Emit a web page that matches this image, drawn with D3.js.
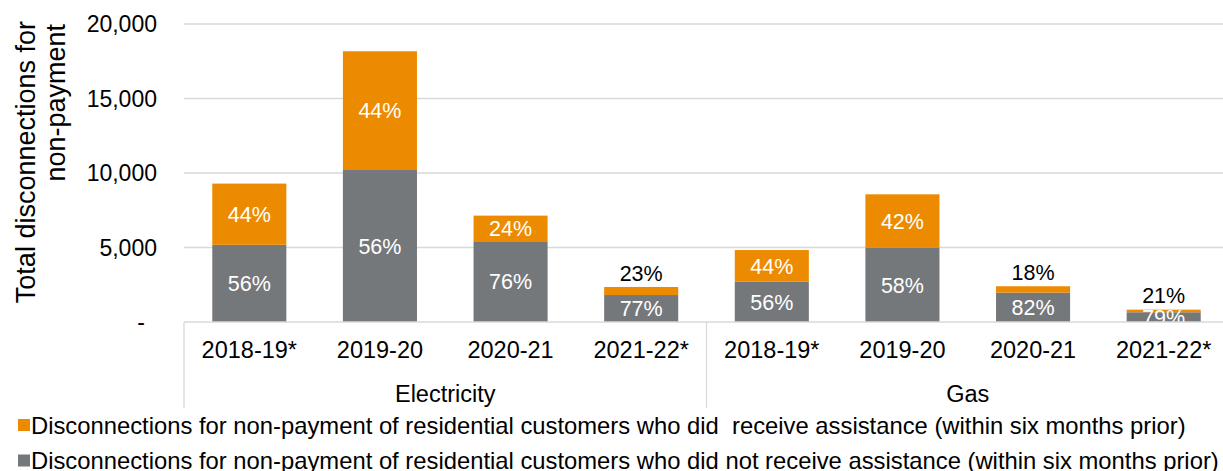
<!DOCTYPE html>
<html>
<head>
<meta charset="utf-8">
<script src="https://cdn.jsdelivr.net/npm/d3@7"></script>
<style>
  html, body { margin: 0; padding: 0; background: #fff; }
  svg { display: block; font-family: "Liberation Sans", Arial, sans-serif; }
  .pre { white-space: pre; }
</style>
</head>
<body>
<svg id="chart" width="1223" height="471"></svg>
<script>
// Disconnections for non-payment, by fuel and financial year
const fuels = ["Electricity", "Gas"];
const periods = ["2018-19*", "2019-20", "2020-21", "2021-22*"];

// Customers who did not receive assistance (grey, bottom of each stack)
const noAssistance = [5180, 10200, 5420, 1810, 2700, 4970, 1970, 655];
// Customers who did receive assistance (orange, top of each stack)
const withAssistance = [4110, 7970, 1720, 540, 2130, 3600, 430, 175];

const yTicks = [0, 5000, 10000, 15000, 20000];

const seriesNames = [
  "Disconnections for non-payment of residential customers who did  receive assistance (within six months prior)",
  "Disconnections for non-payment of residential customers who did not receive assistance (within six months prior)"
];

const colors = { without: "#75787b", with: "#ed8b00" };
const gridColor = "#d9d9d9";

// one row per bar
const rows = [];
fuels.forEach((fuel, f) => periods.forEach((p, i) => {
  const k = f * periods.length + i;
  rows.push({ key: k, fuel, period: p, without: noAssistance[k], with: withAssistance[k] });
}));

const svg = d3.select("#chart");
const margin = { left: 184, top: 24, bottom: 322, right: 1229 };

const x = d3.scaleBand()
  .domain(rows.map(d => d.key))
  .range([margin.left, margin.right])
  .paddingInner(0.433)
  .paddingOuter(0.2165);

const y = d3.scaleLinear().domain([0, 20000]).range([margin.bottom, margin.top]);

// horizontal gridlines
svg.append("g")
  .selectAll("line")
  .data(yTicks.filter(t => t > 0))
  .join("line")
  .attr("x1", margin.left).attr("x2", 1223)
  .attr("y1", d => y(d)).attr("y2", d => y(d))
  .attr("stroke", gridColor).attr("stroke-width", 1.3);

// y-axis tick labels
const fmt = d3.format(",");
svg.append("g")
  .selectAll("text")
  .data(yTicks)
  .join("text")
  .attr("x", d => d === 0 ? 145 : 157)
  .attr("y", d => y(d))
  .attr("dy", "0.36em")
  .attr("text-anchor", "end")
  .attr("font-size", 23)
  .attr("fill", "#000")
  .text(d => d === 0 ? "-" : fmt(d));

// y-axis title (two lines)
const titleLines = ["Total disconnections for", "non-payment"];
svg.append("g")
  .selectAll("text")
  .data(titleLines)
  .join("text")
  .attr("transform", (d, i) => `translate(${35 + i * 30},${21 + i * 3}) rotate(-90)`)
  .attr("text-anchor", "end")
  .attr("font-size", 27)
  .attr("fill", "#000")
  .text(d => d);

// stacked bars
const stack = d3.stack().keys(["without", "with"]);
const layers = stack(rows);

const barG = svg.append("g");
layers.forEach(layer => {
  const key = layer.key;
  barG.append("g")
    .selectAll("rect")
    .data(layer)
    .join("rect")
    .attr("x", d => x(d.data.key))
    .attr("width", x.bandwidth())
    .attr("y", d => y(d[1]))
    .attr("height", d => y(d[0]) - y(d[1]))
    .attr("fill", colors[key]);
});

// data labels: share of each bar's total
const labelG = svg.append("g").attr("font-size", 21.5).attr("text-anchor", "middle");
layers.forEach(layer => {
  const key = layer.key;
  layer.forEach(d => {
    const total = d.data.without + d.data.with;
    const pct = Math.round(d.data[key] / total * 100) + "%";
    const h = y(d[0]) - y(d[1]);
    const cx = x(d.data.key) + x.bandwidth() / 2;
    const outside = key === "with" && h < 20;
    labelG.append("text")
      .attr("x", cx)
      .attr("y", outside ? y(d[1]) - 14 : (y(d[0]) + y(d[1])) / 2)
      .attr("dy", "0.36em")
      .attr("fill", outside ? "#000" : "#fff")
      .text(pct);
  });
});

// baseline
svg.append("line")
  .attr("x1", margin.left).attr("x2", 1223)
  .attr("y1", y(0)).attr("y2", y(0))
  .attr("stroke", gridColor).attr("stroke-width", 1.3);

// category separators (left edge and between fuels)
const sepX = [margin.left, margin.left + (margin.right - margin.left) / 2];
svg.append("g")
  .selectAll("line")
  .data(sepX)
  .join("line")
  .attr("x1", d => d).attr("x2", d => d)
  .attr("y1", y(0)).attr("y2", 408)
  .attr("stroke", gridColor).attr("stroke-width", 1.3);

// period labels
svg.append("g")
  .selectAll("text")
  .data(rows)
  .join("text")
  .attr("x", d => x(d.key) + x.bandwidth() / 2)
  .attr("y", 358)
  .attr("text-anchor", "middle")
  .attr("font-size", 23.5)
  .attr("fill", "#000")
  .text(d => d.period);

// fuel group labels
const groupW = (margin.right - margin.left) / fuels.length;
svg.append("g")
  .selectAll("text")
  .data(fuels)
  .join("text")
  .attr("x", (d, i) => margin.left + groupW * (i + 0.5))
  .attr("y", 401.5)
  .attr("text-anchor", "middle")
  .attr("font-size", 23.5)
  .attr("fill", "#000")
  .text(d => d);

// legend
const legendItems = [
  { name: seriesNames[0], color: colors.with },
  { name: seriesNames[1], color: colors.without }
];
const lg = svg.append("g")
  .selectAll("g")
  .data(legendItems)
  .join("g")
  .attr("transform", (d, i) => `translate(18,${425 + i * 35.5})`);
lg.append("rect")
  .attr("x", 0).attr("y", -6)
  .attr("width", 12).attr("height", 12)
  .attr("fill", d => d.color);
lg.append("text")
  .attr("class", "pre")
  .attr("x", 13)
  .attr("dy", "0.36em")
  .attr("font-size", 23.8)
  .attr("fill", "#000")
  .text(d => d.name);
</script>
</body>
</html>
